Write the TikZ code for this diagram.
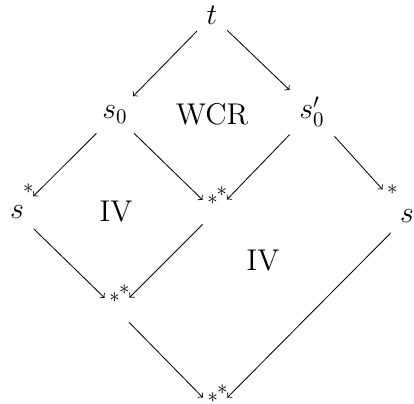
\documentclass[tikz,border=0pt]{standalone}
\usepackage{amsmath,amssymb}
\usetikzlibrary{arrows}

\begin{document}
\begin{tikzpicture}[
        > = to, % arrow head style
        x = 0.48pt, y = -0.48pt, % one unit is one pixel, y downwards
        thin % line style
    ]

    \tikzstyle{every node}=[font = \Large, inner sep = 4.5pt]
    \tikzstyle{joint}=[inner sep = 0pt, minimum size = 11.5pt]
    \tikzstyle{starr}=[font = \normalsize, pos = 1, inner sep = 0pt,
    xshift = 4.8pt]
    \tikzstyle{starl}=[font = \normalsize, pos = 1, inner sep = 0pt,
    xshift = -2.4pt, yshift = 3.8pt]

    \useasboundingbox (0,0) rectangle (414,404);

    \node (1) [anchor=base] at (212,25) {$t$}; \node (2) [anchor=base] at
    (115,119) {$s_0$}; \node (3) [anchor=base] at (312,119) {$s_0'$};
    \node (4) [anchor=base] at (17,219) {$s$}; \node (5) [joint] at
    (215,212) {}; \node (6) [anchor=base] at (407,223) {$s$}; \node (7)
    [joint] at (117,310) {}; \node (8) [joint] at (215,410) {};

    \node (w) at (212,114) {WCR}; \node (iv1) at (116,212) {IV};
    \node (iv2) at (263,261) {IV};

    \path[->] (1) edge (2); \path[->] (1) edge (3); \path[->] (2) edge
    node[starl] {$*$} (4); \path[->] (2) edge node[starr] {$*$} (5);
    \path[->] (3) edge node[starl] {$*$} (5); \path[->, shorten >= 7pt]
    (3) edge node[starr, xshift = -4.8pt, yshift = 5.1pt] {$*$} (6);
    \path[->] (4) edge node[starr] {$*$} (7); \path[->] (5) edge
    node[starl] {$*$} (7); \path[->] (7) edge node[starr] {$*$} (8);
    \path[->] (6) edge node[starl] {$*$} (8);

\end{tikzpicture}
\end{document}
